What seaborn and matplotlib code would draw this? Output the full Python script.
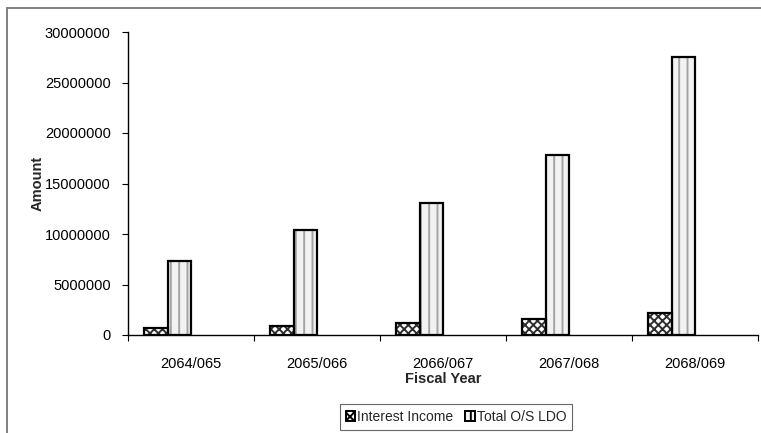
import matplotlib
matplotlib.use("Agg")
import matplotlib.pyplot as plt
from matplotlib.patches import Rectangle
from matplotlib.lines import Line2D
import seaborn as sns
import pandas as pd

# Fiscal years and the two series (NPR)
years = ["2064/065", "2065/066", "2066/067", "2067/068", "2068/069"]
interest_income = [720000, 900000, 1150000, 1600000, 2200000]
total_os_ldo = [7300000, 10400000, 13100000, 17800000, 27500000]
series_names = ["Interest Income", "Total O/S LDO"]
yticks = [0, 5000000, 10000000, 15000000, 20000000, 25000000, 30000000]

df = pd.DataFrame({
    "Fiscal Year": years * 2,
    "Amount": interest_income + total_os_ldo,
    "Series": [series_names[0]] * len(years) + [series_names[1]] * len(years),
})

sns.set_theme(style="white")
plt.rcParams["font.family"] = ["Liberation Sans", "DejaVu Sans"]
plt.rcParams["hatch.linewidth"] = 1.4

fig = plt.figure(figsize=(7.61, 4.33), dpi=100)
ax = fig.add_axes([128 / 761, 1 - 335 / 433, 630 / 761, 303 / 433])

# two empty slots keep each pair of bars on the left side of its category
hue_order = series_names + ["_a", "_b"]
sns.barplot(data=df, x="Fiscal Year", y="Amount", hue="Series",
            hue_order=hue_order, order=years,
            palette=["white"] * 4, width=0.74, gap=0,
            errorbar=None, legend=False, ax=ax)

styles = {
    series_names[0]: dict(hatch="xxxx", hc="#2e2e2e", fc="white"),
    series_names[1]: dict(hatch="||", hc="#a3a3a3", fc="#f2f2f2"),
}
bars = [p for p in ax.patches if isinstance(p, Rectangle) and p.get_height() > 0]
bars.sort(key=lambda p: p.get_x())
handles = []
for p in list(bars):
    cx = p.get_x() + p.get_width() / 2
    cat = int(round(cx + 0.2))
    name = series_names[0] if cx < cat - 0.15 else series_names[1]
    st = styles[name]
    p.set_facecolor(st["fc"])
    p.set_hatch(st["hatch"])
    p.set_edgecolor(st["hc"])
    p.set_linewidth(0)
    ax.add_patch(Rectangle((p.get_x(), p.get_y()), p.get_width(), p.get_height(),
                           fill=False, edgecolor="black", linewidth=1.6, zorder=3))

for name in series_names:
    st = styles[name]
    handles.append(Rectangle((0, 0), 1, 1, facecolor=st["fc"], hatch=st["hatch"],
                             edgecolor="black", linewidth=1.4, label=name))

ax.set_xlim(-0.5, len(years) - 0.5)
ax.set_ylim(0, 30000000)
ax.set_yticks(yticks)
ax.set_yticklabels([str(v) for v in yticks], fontsize=10.5, color="black")
ax.set_xticks(range(len(years)))
ax.set_xticklabels(years, fontsize=10.5, color="black")
ax.set_xticks([i - 0.5 for i in range(len(years) + 1)], minor=True)
ax.tick_params(axis="x", which="major", length=0, pad=15.5)
ax.tick_params(axis="x", which="minor", length=4, width=0.8, color="black", direction="out", bottom=True)
ax.tick_params(axis="y", length=4, width=0.8, color="black", direction="out", left=True, pad=8.5)

for s in ["top", "right"]:
    ax.spines[s].set_visible(False)
for s in ["left", "bottom"]:
    ax.spines[s].set_color("black")
    ax.spines[s].set_linewidth(1.0)

ax.set_xlabel("Fiscal Year", fontsize=10.5, fontweight="bold", labelpad=1)
ax.set_ylabel("Amount", fontsize=10.5, fontweight="bold", labelpad=0)
ax.grid(False)

leg = fig.legend(handles=handles, loc="center", bbox_to_anchor=(456 / 761, 1 - 417 / 433),
                 ncol=2, fontsize=10, frameon=True, fancybox=False, handlelength=0.65,
                 handleheight=0.65, handletextpad=0.15, columnspacing=0.9,
                 borderpad=0.45, borderaxespad=0)
leg.get_frame().set_edgecolor("#404040")
leg.get_frame().set_linewidth(0.8)

# outer chart-area border (top and left edges)
fig.add_artist(Line2D([6.5 / 761, 6.5 / 761], [0, 1 - 7.5 / 433], transform=fig.transFigure,
                      color="#808080", linewidth=1.4))
fig.add_artist(Line2D([6.5 / 761, 1], [1 - 7.5 / 433, 1 - 7.5 / 433], transform=fig.transFigure,
                      color="#808080", linewidth=1.4))

fig.savefig("out.png", dpi=100, facecolor="white")
